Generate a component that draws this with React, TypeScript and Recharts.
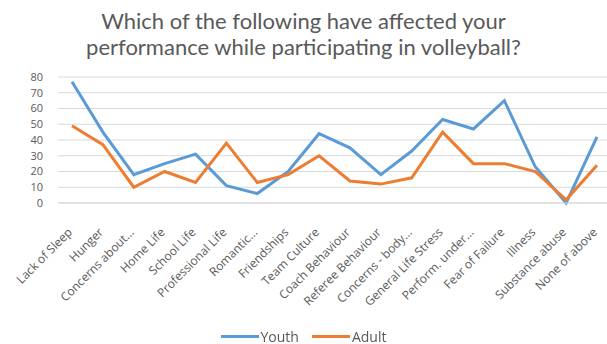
import { LineChart, Line, XAxis, YAxis, CartesianGrid, Legend } from "recharts";

const categories = [
  "Lack of Sleep",
  "Hunger",
  "Concerns about...",
  "Home Life",
  "School Life",
  "Professional Life",
  "Romantic...",
  "Friendships",
  "Team Culture",
  "Coach Behaviour",
  "Referee Behaviour",
  "Concerns - body...",
  "General Life Stress",
  "Perform. under...",
  "Fear of Failure",
  "Illness",
  "Substance abuse",
  "None of above",
];

const youth = [77, 45, 18, 25, 31, 11, 6, 20, 44, 35, 18, 33, 53, 47, 65, 23, 0, 42];
const adult = [49, 37, 10, 20, 13, 38, 13, 18, 30, 14, 12, 16, 45, 25, 25, 20, 2, 24];

const yTicks = [0, 10, 20, 30, 40, 50, 60, 70, 80];

const titleLines = [
  "Which of the following have affected your",
  "performance while participating in volleyball?",
];

const data = categories.map((name, i) => ({ name, Youth: youth[i], Adult: adult[i] }));

const FONT = "'Open Sans', sans-serif";
const TITLE_FONT = "Lato, sans-serif";
const TEXT = "#595959";
const BLUE = "#5B9BD5";
const ORANGE = "#ED7D31";

// slanted category labels, anchored at their end just under the axis
function CategoryTick(props: any) {
  const { x, y, payload } = props;
  return (
    <g transform={`translate(${x + 1},${y + 22}) rotate(-45)`}>
      <text x={0} y={0} textAnchor="end" fill={TEXT} fontSize={12} fontFamily={FONT}>
        {payload.value}
      </text>
    </g>
  );
}

function LegendContent() {
  const items = [
    { label: "Youth", color: BLUE },
    { label: "Adult", color: ORANGE },
  ];
  return (
    <div
      style={{
        display: "flex",
        justifyContent: "center",
        alignItems: "center",
        height: 16,
        gap: 13,
        fontFamily: FONT,
        fontSize: 14,
        color: TEXT,
      }}
    >
      {items.map((it) => (
        <div key={it.label} style={{ display: "flex", alignItems: "center" }}>
          <div style={{ width: 38, height: 3, background: it.color, marginRight: 2 }} />
          <span>{it.label}</span>
        </div>
      ))}
    </div>
  );
}

export default function App() {
  return (
    <div
      style={{
        position: "fixed",
        left: 0,
        top: 0,
        width: 607,
        height: 344,
        background: "#fff",
      }}
    >
      <div
        style={{
          position: "absolute",
          left: 0,
          top: 8,
          width: 607,
          textAlign: "center",
          fontFamily: TITLE_FONT,
          fontSize: 22,
          lineHeight: "26px",
          color: TEXT,
        }}
      >
        {titleLines.map((line) => (
          <div key={line}>{line}</div>
        ))}
      </div>
      <LineChart
        width={607}
        height={344}
        data={data}
        margin={{ top: 77, right: 0, bottom: 0, left: 0 }}
      >
        <CartesianGrid vertical={false} stroke="#d9d9d9" strokeWidth={1} />
        <XAxis
          dataKey="name"
          interval={0}
          height={125}
          padding={{ left: 14, right: 10 }}
          axisLine={{ stroke: "#d9d9d9" }}
          tickLine={false}
          tick={<CategoryTick />}
        />
        <YAxis
          width={58}
          domain={[0, 80]}
          ticks={yTicks}
          interval={0}
          axisLine={false}
          tickLine={false}
          tickMargin={9}
          tick={{ fill: TEXT, fontSize: 11, fontFamily: FONT }}
        />
        <Legend verticalAlign="bottom" content={<LegendContent />} />
        <Line
          type="linear"
          dataKey="Youth"
          stroke={BLUE}
          strokeWidth={3}
          dot={false}
          isAnimationActive={false}
        />
        <Line
          type="linear"
          dataKey="Adult"
          stroke={ORANGE}
          strokeWidth={3}
          dot={false}
          isAnimationActive={false}
        />
      </LineChart>
    </div>
  );
}
